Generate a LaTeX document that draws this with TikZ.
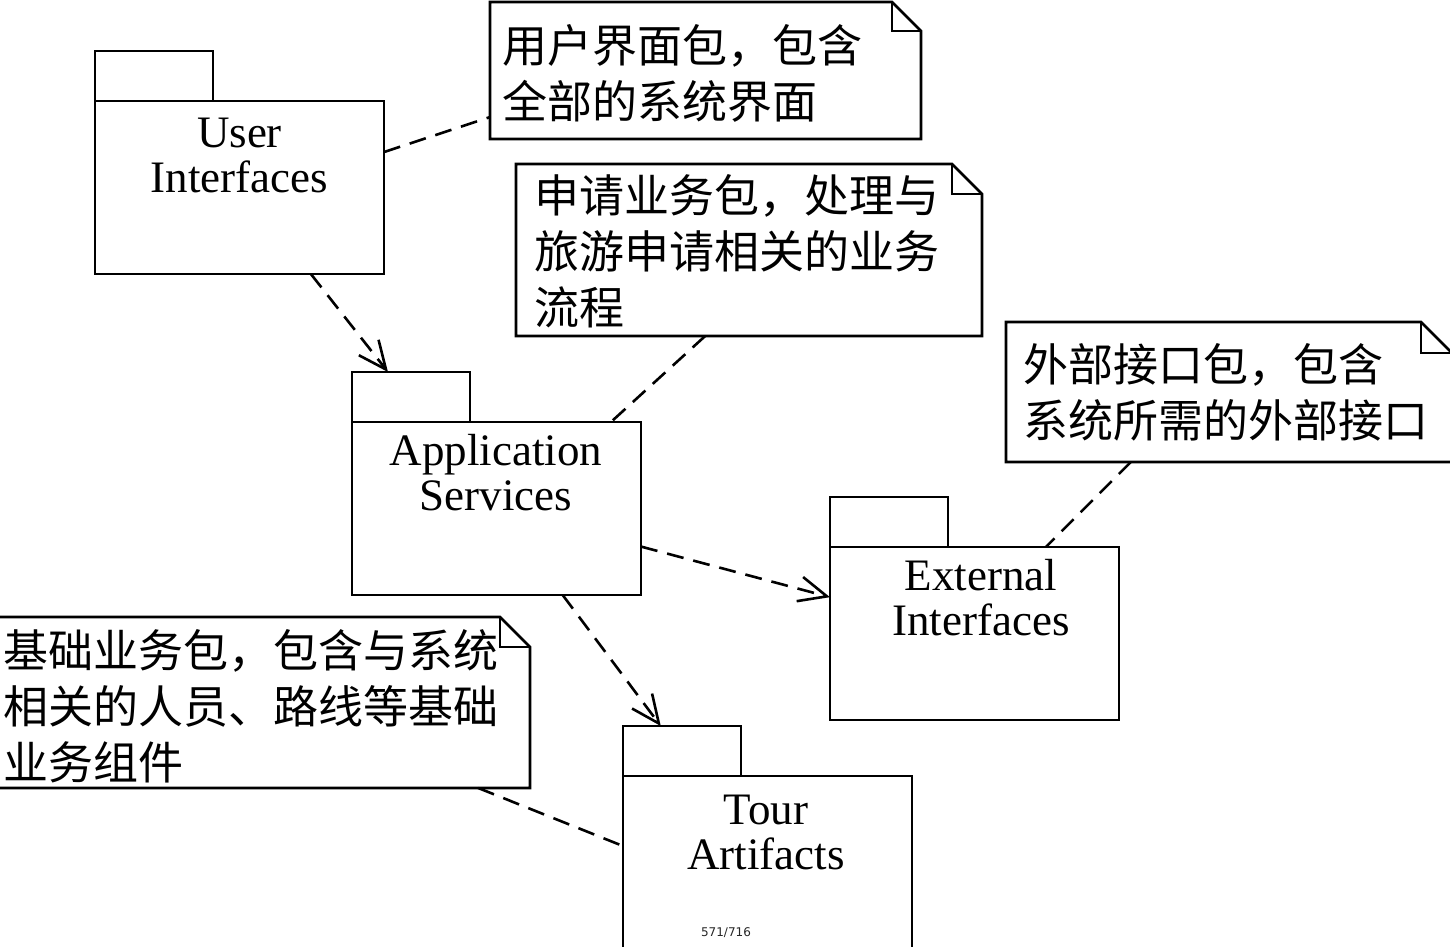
\documentclass[tikz,border=0pt]{standalone}
\usepackage{fontspec}
\setmainfont{Liberation Serif}
\newfontfamily\cjk{Noto Sans CJK SC}
\newfontfamily\pagefont{DejaVu Sans}
\usetikzlibrary{arrows.meta,calc}
\tikzset{
  ln/.style={line width=2.6pt},
  pkgbody/.style={ln, draw, rectangle, anchor=north west, inner sep=0pt, outer sep=0pt, minimum width=289pt, minimum height=173pt},
  pkgtab/.style={ln, draw, rectangle, anchor=south west, inner sep=0pt, outer sep=0pt, minimum width=118pt, minimum height=50pt},
  pkgtext/.style={anchor=north, inner sep=0pt, align=center, font=\fontsize{45}{45}\selectfont},
  noteframe/.style={anchor=north west, inner sep=0pt, outer sep=0pt, rectangle},
  notetext/.style={anchor=north west, inner sep=0pt, align=left, font=\cjk\fontsize{45}{56}\selectfont},
  anchorline/.style={ln, dash pattern=on 17pt off 10pt},
  dep/.style={anchorline, -{Straight Barb[length=28pt,width=25pt,line width=2.6pt]}},
}
\newcommand\drawnote[2]{%
  \draw[ln] (#1.north west) -- ($(#1.north east)+(-#2,0)$) -- ($(#1.north east)+(0,#2)$) -- (#1.south east) -- (#1.south west) -- cycle;
  \draw[ln] ($(#1.north east)+(-#2,0)$) |- ($(#1.north east)+(0,#2)$);}
\begin{document}
\begin{tikzpicture}[x=1pt,y=-1pt]
\useasboundingbox (0,0) rectangle (1450,946);
\clip (0,0) rectangle (1450,946);
\fill[white] (0,0) rectangle (1450,946);

% packages
\node[pkgbody] (ui) at (95,101) {};
\node[pkgtab] (uitab) at (ui.north west) {};
\node[pkgtext] (uit) at (239.5,118) {User\\Interfaces};

\node[pkgbody] (as) at (352,422) {};
\node[pkgtab] (astab) at (as.north west) {};
\node[pkgtext] (ast) at (496,434) {Application\\Services};

\node[pkgbody] (ext) at (830,547) {};
\node[pkgtab] (exttab) at (ext.north west) {};
\node[pkgtext] (extt) at (981,559) {External\\Interfaces};

\node[pkgbody, minimum height=200pt] (tour) at (623,776) {};
\node[pkgtab] (tourtab) at (tour.north west) {};
\node[pkgtext] (tourt) at (766,795) {Tour\\Artifacts};

% notes
\node[noteframe, minimum width=431pt, minimum height=137pt] (n1) at (490,2) {};
\drawnote{n1}{29}
\node[notetext] (n1t) at (502,24) {用户界面包，包含\\全部的系统界面};

\node[noteframe, minimum width=466pt, minimum height=172pt] (n2) at (516,164) {};
\drawnote{n2}{30}
\node[notetext] (n2t) at (534,174) {申请业务包，处理与\\旅游申请相关的业务\\流程};

\node[noteframe, minimum width=446pt, minimum height=140pt] (n3) at (1006,322) {};
\drawnote{n3}{31}
\node[notetext] (n3t) at (1023,343) {外部接口包，包含\\系统所需的外部接口};

\node[noteframe, minimum width=534pt, minimum height=171pt] (n4) at (-4,617) {};
\drawnote{n4}{30}
\node[notetext] (n4t) at (3,629) {基础业务包，包含与系统\\相关的人员、路线等基础\\业务组件};

% connectors
\draw[anchorline] ($(ui.north east)!0.295!(ui.south east)$) -- ($(n1.north west)!0.84!(n1.south west)$);
\draw[dep] ($(ui.south west)!0.747!(ui.south east)$) -- ($(astab.north west)!0.305!(astab.north east)$);
\draw[anchorline] ($(n2.south west)!0.406!(n2.south east)$) -- ($(as.north west)!0.896!(as.north east)$);
\draw[dep] ($(as.north east)!0.72!(as.south east)$) -- ($(ext.north west)!0.29!(ext.south west)$);
\draw[anchorline] ($(n3.south west)!0.28!(n3.south east)$) -- ($(ext.north west)!0.747!(ext.north east)$);
\draw[dep] ($(as.south west)!0.729!(as.south east)$) -- ($(tourtab.north west)!0.32!(tourtab.north east)$);
\draw[anchorline] ($(n4.south west)!0.903!(n4.south east)$) -- ($(tour.north west)+(0,70)$);

% page number
\node[font=\pagefont\fontsize{12}{12}\selectfont, text=black!85, inner sep=0pt] (pg) at (726,933) {571/716};
\end{tikzpicture}
\end{document}
